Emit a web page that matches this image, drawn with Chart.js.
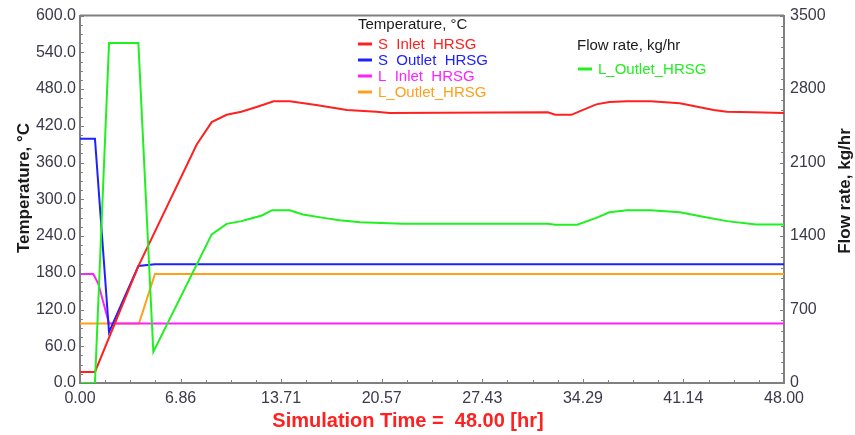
<!DOCTYPE html>
<html>
<head>
<meta charset="utf-8">
<script src="https://cdn.jsdelivr.net/npm/chart.js@4.4.1/dist/chart.umd.min.js"></script>
<style>
  html, body { margin: 0; padding: 0; background: #ffffff; }
  #wrap { width: 855px; height: 435px; }
</style>
</head>
<body>
<div id="wrap"><canvas id="hrsg" width="855" height="435"></canvas></div>
<script>
// HRSG start-up trend: four temperatures on the left axis, one flow rate on the right.

// Tick labels
const TIME_TICKS = [0, 6.86, 13.71, 20.57, 27.43, 34.29, 41.14, 48.0];
const TEMP_TICKS = [0, 60, 120, 180, 240, 300, 360, 420, 480, 540, 600];
const FLOW_TICKS = [0, 700, 1400, 2100, 2800, 3500];

// S_Inlet_HRSG temperature, °C
const sInletTime = [0, 1.02, 3.98, 7.95, 8.98, 10.0, 11.0, 12.2, 13.2, 14.3, 16.1, 18.2, 20.2, 21.1,
  31.9, 32.4, 33.5, 34.1, 35.2, 36.1, 37.3, 38.9, 40.9, 43.2, 44.1, 45.9, 48.0];
const sInletTemp = [18, 18, 191, 389, 426, 438, 443, 452, 460, 460, 454, 446, 443, 441,
  442, 438, 438, 444, 455, 459, 460, 460, 457, 446, 443, 442, 441];

// S_Outlet_HRSG temperature, °C
const sOutletTime = [0, 1.02, 1.98, 3.98, 5.1, 48.0];
const sOutletTemp = [399, 399, 83, 191, 194, 194];

// L_Inlet_HRSG temperature, °C
const lInletTime = [0, 0.91, 1.25, 1.98, 48.0];
const lInletTemp = [178, 178, 162, 97, 97];

// L_Outlet_HRSG temperature, °C
const lOutletTime = [0, 4.02, 5.11, 48.0];
const lOutletTemp = [97, 97, 178, 178];

// L_Outlet_HRSG flow rate, kg/hr
const flowTime = [0, 1.02, 1.98, 3.98, 5.0, 8.98, 10.0, 11.0, 11.6, 12.4, 13.1, 14.3, 15.2, 16.6, 17.7,
  19.1, 22.0, 31.9, 32.4, 33.9, 35.2, 36.1, 37.3, 38.9, 40.9, 42.3, 44.1, 46.1, 48.0];
const flowRate = [0, 0, 3238, 3238, 296, 1416, 1516, 1542, 1564, 1596, 1646, 1646, 1605, 1573, 1551,
  1532, 1516, 1518, 1508, 1508, 1573, 1627, 1646, 1646, 1627, 1589, 1542, 1511, 1511];

const FONT = "'Liberation Sans', Arial, sans-serif";
const AXIS_COLOR = '#808080';
const TICK_COLOR = '#3a3a4a';

function toPoints(xs, ys) {
  return xs.map((x, i) => ({ x: x, y: ys[i] }));
}

// Split each major interval into equal minor steps
function minorValues(majors, parts) {
  const out = [];
  for (let i = 0; i < majors.length - 1; i++) {
    const step = (majors[i + 1] - majors[i]) / parts;
    for (let k = 1; k < parts; k++) out.push(majors[i] + k * step);
  }
  return out;
}

// Inward tick marks and the top edge of the frame
const frameTicks = {
  id: 'frameTicks',
  afterDraw(chart) {
    const { ctx, chartArea: a, scales } = chart;
    ctx.save();
    ctx.strokeStyle = AXIS_COLOR;
    ctx.lineWidth = 2;
    ctx.beginPath();
    ctx.moveTo(a.left, a.top);
    ctx.lineTo(a.right, a.top);
    ctx.stroke();

    ctx.lineWidth = 1;
    ctx.beginPath();
    const mark = (x1, y1, x2, y2) => { ctx.moveTo(x1, y1); ctx.lineTo(x2, y2); };
    TIME_TICKS.forEach(v => { const x = Math.round(scales.x.getPixelForValue(v)) + 0.5; mark(x, a.bottom, x, a.bottom - 4); });
    minorValues(TIME_TICKS, 4).forEach(v => { const x = Math.round(scales.x.getPixelForValue(v)) + 0.5; mark(x, a.bottom, x, a.bottom - 3); });
    TEMP_TICKS.forEach(v => { const y = Math.round(scales.y.getPixelForValue(v)) + 0.5; mark(a.left, y, a.left + 4, y); });
    minorValues(TEMP_TICKS, 4).forEach(v => { const y = Math.round(scales.y.getPixelForValue(v)) + 0.5; mark(a.left, y, a.left + 3, y); });
    FLOW_TICKS.forEach(v => { const y = Math.round(scales.y1.getPixelForValue(v)) + 0.5; mark(a.right, y, a.right - 4, y); });
    minorValues(FLOW_TICKS, 7).forEach(v => { const y = Math.round(scales.y1.getPixelForValue(v)) + 0.5; mark(a.right, y, a.right - 3, y); });
    ctx.stroke();
    ctx.restore();
  }
};

// Axis titles and the two in-plot legend blocks
const annotations = {
  id: 'annotations',
  afterDraw(chart) {
    const { ctx, chartArea: a } = chart;
    const ds = chart.data.datasets;
    ctx.save();

    ctx.fillStyle = '#1a1a1a';
    ctx.font = 'bold 17px ' + FONT;
    ctx.textAlign = 'center';
    ctx.textBaseline = 'middle';
    ctx.save();
    ctx.translate(24, 188);
    ctx.rotate(-Math.PI / 2);
    ctx.fillText('Temperature, °C', 0, 0);
    ctx.restore();
    ctx.save();
    ctx.translate(845, 191);
    ctx.rotate(-Math.PI / 2);
    ctx.fillText('Flow rate, kg/hr', 0, 0);
    ctx.restore();

    ctx.fillStyle = '#ff2020';
    ctx.font = 'bold 20px ' + FONT;
    ctx.fillText('Simulation Time =  48.00 [hr]', (a.left + a.right) / 2 - 24, 421);

    ctx.textAlign = 'left';
    ctx.font = '15px ' + FONT;
    ctx.fillStyle = '#1a1a1a';
    ctx.fillText('Temperature, °C', 358, 25);
    ctx.fillText('Flow rate, kg/hr', 577, 46);

    const entry = (d, x, y) => {
      ctx.strokeStyle = d.borderColor;
      ctx.lineWidth = 3;
      ctx.beginPath();
      ctx.moveTo(x, y);
      ctx.lineTo(x + 14, y);
      ctx.stroke();
      ctx.fillStyle = d.borderColor;
      ctx.fillText(d.label, x + 20, y + 1);
    };
    entry(ds[0], 358, 44);
    entry(ds[1], 358, 60);
    entry(ds[2], 358, 76);
    entry(ds[3], 358, 92);
    entry(ds[4], 578, 69);
    ctx.restore();
  }
};

const tickFont = { family: FONT, size: 16 };

new Chart(document.getElementById('hrsg'), {
  type: 'line',
  data: {
    datasets: [
      { label: 'S  Inlet  HRSG', data: toPoints(sInletTime, sInletTemp), borderColor: '#ff2020', yAxisID: 'y', order: 2 },
      { label: 'S  Outlet  HRSG', data: toPoints(sOutletTime, sOutletTemp), borderColor: '#2020ff', yAxisID: 'y', order: 3 },
      { label: 'L  Inlet  HRSG', data: toPoints(lInletTime, lInletTemp), borderColor: '#ff20ff', yAxisID: 'y', order: 4 },
      { label: 'L_Outlet_HRSG', data: toPoints(lOutletTime, lOutletTemp), borderColor: '#ff9f1a', yAxisID: 'y', order: 5 },
      { label: 'L_Outlet_HRSG', data: toPoints(flowTime, flowRate), borderColor: '#20f020', yAxisID: 'y1', order: 1 }
    ]
  },
  options: {
    responsive: false,
    animation: false,
    layout: { padding: { top: 13 } },
    elements: {
      point: { radius: 0 },
      line: { borderWidth: 2, tension: 0, fill: false }
    },
    plugins: { legend: { display: false }, tooltip: { enabled: false } },
    scales: {
      x: {
        type: 'linear',
        min: 0,
        max: 48,
        afterBuildTicks: s => { s.ticks = TIME_TICKS.map(v => ({ value: v })); },
        afterFit: s => { s.height = 52; },
        grid: { display: false, drawTicks: false },
        border: { display: true, color: AXIS_COLOR, width: 2 },
        ticks: { font: tickFont, color: TICK_COLOR, padding: 6, maxRotation: 0, autoSkip: false,
          callback: v => v.toFixed(2) }
      },
      y: {
        position: 'left',
        min: 0,
        max: 600,
        afterBuildTicks: s => { s.ticks = TEMP_TICKS.map(v => ({ value: v })); },
        afterFit: s => { s.width = 80; },
        grid: { display: false, drawTicks: false },
        border: { display: true, color: AXIS_COLOR, width: 2 },
        ticks: { font: tickFont, color: TICK_COLOR, padding: 4, autoSkip: false,
          callback: v => v.toFixed(1) }
      },
      y1: {
        position: 'right',
        min: 0,
        max: 3500,
        afterBuildTicks: s => { s.ticks = FLOW_TICKS.map(v => ({ value: v })); },
        afterFit: s => { s.width = 71; },
        grid: { display: false, drawTicks: false },
        border: { display: true, color: AXIS_COLOR, width: 2 },
        ticks: { font: tickFont, color: TICK_COLOR, padding: 6, autoSkip: false,
          callback: v => String(v) }
      }
    }
  },
  plugins: [frameTicks, annotations]
});
</script>
</body>
</html>
